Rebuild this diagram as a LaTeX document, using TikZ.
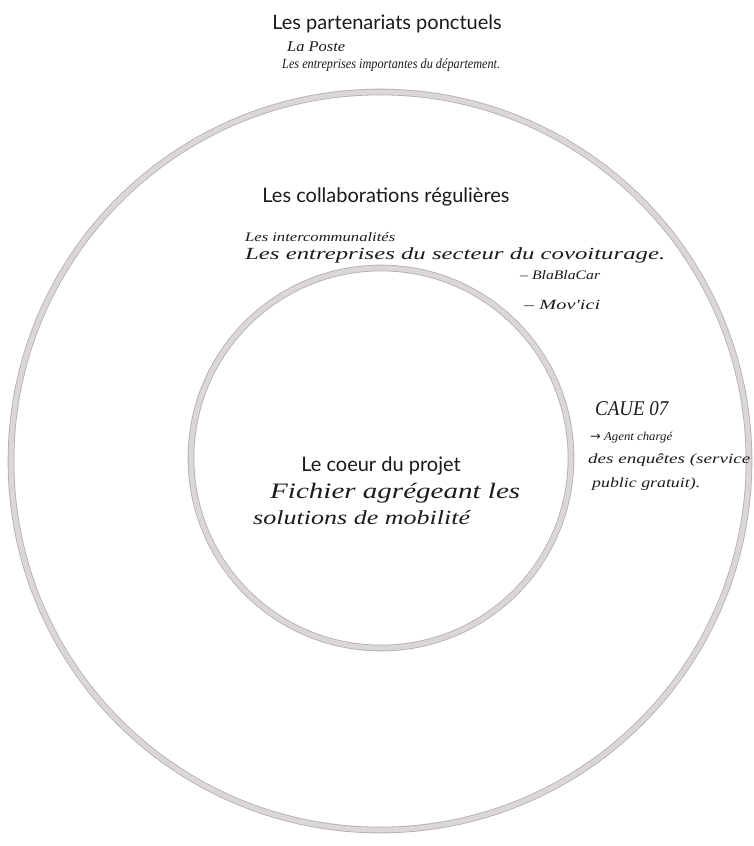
\documentclass[tikz,border=0pt]{standalone}
\usepackage{fontspec}
\usepackage{graphicx}
\setmainfont{Lato}
\newfontfamily\handfont{Liberation Serif}
\newfontfamily\symfont{DejaVu Sans}
\definecolor{ringedge}{HTML}{B3ADAE}
\definecolor{ringfill}{HTML}{DCD7D7}
\definecolor{inkcol}{HTML}{1E1A1E}
\definecolor{printcol}{HTML}{1A1A1A}
% #1 target width, #2 font size, #3 text: stretched horizontally only
\newcommand{\hw}[3]{\resizebox{#1pt}{\height}{\handfont\itshape\fontsize{#2}{#2}\selectfont #3}}
\tikzset{
  ring/.style={circle, draw=ringedge, line width=0.8pt, double=ringfill, double distance=5pt, inner sep=0pt},
  printed/.style={text=printcol, inner sep=0pt, anchor=base, font=\fontsize{20}{22}\selectfont},
  hand/.style={text=inkcol, inner sep=0pt, anchor=base west}
}
\begin{document}
\begin{tikzpicture}[x=1pt,y=-1pt]
\useasboundingbox (0,0) rectangle (754,846);
\fill[white] (0,0) rectangle (754,846);
% rings
\node[ring, minimum size=738pt] (outer) at (380,461) {};
\node[ring, minimum size=380pt] (inner) at (381,458) {};
% outer zone
\node[printed] (t1) at (387,29) {Les partenariats ponctuels};
\node[hand] (h1) at (287,51) {\hw{58}{15}{La Poste}};
\node[hand] (h2) at (282,68) {\hw{218}{14}{Les entreprises importantes du département.}};
% middle zone
\node[printed] (t2) at (386,202) {Les collaborations régulières};
\node[hand] (h3) at (245,241) {\hw{150}{13}{Les intercommunalités}};
\node[hand] (h4) at (245,259) {\hw{420}{17}{Les entreprises du secteur du covoiturage.}};
\node[hand] (h5) at (520,279) {\hw{80}{13}{– BlaBlaCar}};
\node[hand] (h6) at (524,309) {\hw{76}{14}{– Mov'ici}};
\node[hand] (h7) at (595,415) {\hw{73}{21}{CAUE 07}};
\node[hand] (h8) at (590,440) {\hw{82}{12}{{\symfont →} Agent chargé}};
\node[hand] (h9) at (588,463) {\hw{162}{14}{des enquêtes (service}};
\node[hand] (h10) at (592,487) {\hw{108}{14}{public gratuit).}};
% core
\node[printed] (t3) at (381,471) {Le coeur du projet};
\node[hand] (h11) at (270,498) {\hw{250}{22}{Fichier agrégeant les}};
\node[hand] (h12) at (253,524) {\hw{217}{20}{solutions de mobilité}};
\end{tikzpicture}
\end{document}
